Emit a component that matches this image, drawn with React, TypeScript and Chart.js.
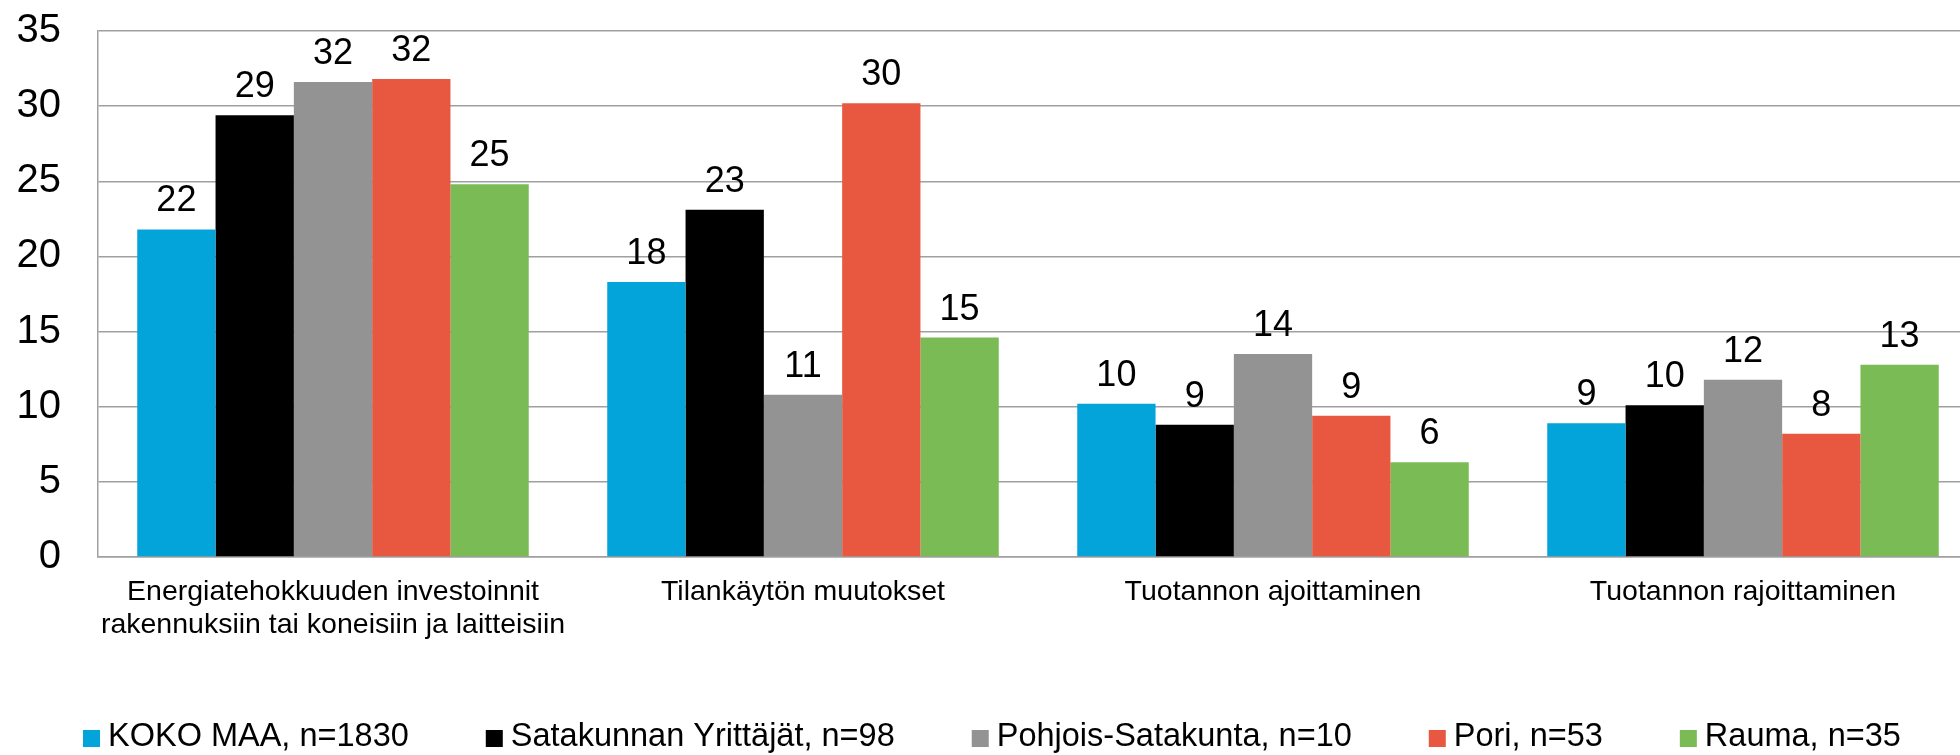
import React, { useEffect, useRef } from "react";
import { Chart, registerables } from "chart.js";

Chart.register(...registerables);

const categories: (string | string[])[] = [
  ["Energiatehokkuuden investoinnit", "rakennuksiin tai koneisiin ja laitteisiin"],
  "Tilankäytön muutokset",
  "Tuotannon ajoittaminen",
  "Tuotannon rajoittaminen",
];

const seriesNames = [
  "KOKO MAA, n=1830",
  "Satakunnan Yrittäjät, n=98",
  "Pohjois-Satakunta, n=10",
  "Pori, n=53",
  "Rauma, n=35",
];

const kokoMaa = [21.8, 18.3, 10.2, 8.9];
const satakunnanYrittajat = [29.4, 23.1, 8.8, 10.1];
const pohjoisSatakunta = [31.6, 10.8, 13.5, 11.8];
const pori = [31.8, 30.2, 9.4, 8.2];
const rauma = [24.8, 14.6, 6.3, 12.8];

const seriesColors = ["#03A4D9", "#000000", "#939393", "#E85840", "#7ABB55"];

const yMin = 0;
const yMax = 35;
const yStep = 5;

const FONT = "'Liberation Sans', Arial, sans-serif";

const valueLabelPlugin = {
  id: "valueLabels",
  afterDatasetsDraw(chart: any) {
    const ctx = chart.ctx;
    ctx.save();
    ctx.font = `36px ${FONT}`;
    ctx.fillStyle = "#000";
    ctx.textAlign = "center";
    ctx.textBaseline = "alphabetic";
    chart.data.datasets.forEach((ds: any, di: number) => {
      const meta = chart.getDatasetMeta(di);
      meta.data.forEach((bar: any, i: number) => {
        const v = ds.data[i];
        ctx.fillText(String(Math.round(v)), bar.x, bar.y - 18);
      });
    });
    ctx.restore();
  },
};

const customLegendPlugin = {
  id: "customLegend",
  afterDraw(chart: any) {
    const ctx = chart.ctx;
    ctx.save();
    ctx.font = `32.5px ${FONT}`;
    ctx.textBaseline = "alphabetic";
    ctx.textAlign = "left";
    let x = 83;
    const boxTop = 730;
    const box = 17;
    chart.data.datasets.forEach((ds: any) => {
      ctx.fillStyle = ds.backgroundColor;
      ctx.fillRect(x, boxTop, box, box);
      ctx.fillStyle = "#000";
      const tx = x + box + 8;
      ctx.fillText(ds.label, tx, 746);
      x = tx + ctx.measureText(ds.label).width + 77;
    });
    ctx.restore();
  },
};

export default function App() {
  const canvasRef = useRef<HTMLCanvasElement | null>(null);

  useEffect(() => {
    if (!canvasRef.current) return;
    const seriesData = [kokoMaa, satakunnanYrittajat, pohjoisSatakunta, pori, rauma];
    const chart = new Chart(canvasRef.current, {
      type: "bar",
      data: {
        labels: categories,
        datasets: seriesNames.map((name, i) => ({
          label: name,
          data: seriesData[i],
          backgroundColor: seriesColors[i],
          borderWidth: 0,
          categoryPercentage: 0.833,
          barPercentage: 1,
        })),
      },
      options: {
        responsive: false,
        animation: false,
        devicePixelRatio: 1,
        layout: { padding: { left: 0, top: 31, right: 22, bottom: 0 } },
        plugins: {
          legend: { display: false },
          tooltip: { enabled: false },
          title: { display: false },
        },
        scales: {
          x: {
            grid: { display: false, drawTicks: false },
            border: { display: true, color: "#a0a0a0", width: 1.5 },
            ticks: {
              color: "#000",
              font: { family: FONT, size: 28.5, lineHeight: 1.16 },
              padding: 19,
              maxRotation: 0,
              autoSkip: false,
            },
            afterFit(scale: any) {
              scale.height = 198;
              scale.paddingLeft = 0;
              scale.paddingRight = 0;
            },
          },
          y: {
            min: yMin,
            max: yMax,
            grid: { color: "#a0a0a0", lineWidth: 1.5, drawTicks: false },
            border: { display: true, color: "#a0a0a0", width: 1.5 },
            ticks: {
              stepSize: yStep,
              color: "#000",
              font: { family: FONT, size: 40 },
              padding: 37,
            },
            afterFit(scale: any) {
              scale.width = 98;
              scale.paddingTop = 0;
              scale.paddingBottom = 0;
            },
          },
        },
      },
      plugins: [valueLabelPlugin, customLegendPlugin],
    });
    return () => chart.destroy();
  }, []);

  return (
    <div
      style={{
        position: "fixed",
        left: 0,
        top: 0,
        width: 1960,
        height: 755,
        overflow: "hidden",
        background: "#fff",
      }}
    >
      <canvas ref={canvasRef} width={2000} height={755} style={{ display: "block" }} />
    </div>
  );
}
